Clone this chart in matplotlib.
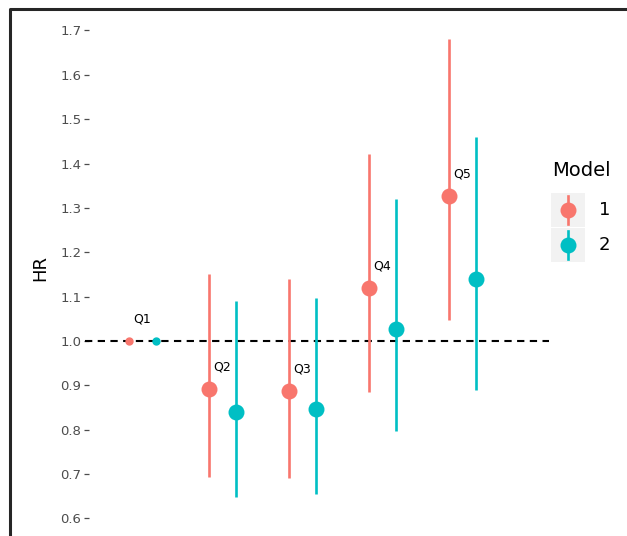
import matplotlib
matplotlib.use("Agg")
import matplotlib.pyplot as plt
from matplotlib.lines import Line2D
from matplotlib.patches import Rectangle
import numpy as np

# ── data ────────────────────────────────────────────────────────────────
quintiles = ["Q1", "Q2", "Q3", "Q4", "Q5"]
models = ["1", "2"]

hr_m1 = [1.000, 0.892, 0.887, 1.120, 1.327]
lo_m1 = [1.000, 0.693, 0.691, 0.885, 1.047]
hi_m1 = [1.000, 1.151, 1.140, 1.422, 1.681]

hr_m2 = [1.000, 0.840, 0.847, 1.027, 1.140]
lo_m2 = [1.000, 0.648, 0.655, 0.797, 0.890]
hi_m2 = [1.000, 1.090, 1.097, 1.320, 1.460]

yticks = [0.6, 0.7, 0.8, 0.9, 1.0, 1.1, 1.2, 1.3, 1.4, 1.5, 1.6, 1.7]

colors = ["#F8766D", "#00BFC4"]
W, H = 627, 536

fig = plt.figure(figsize=(W / 100, H / 100), dpi=100)


def fx(px):
    return px / W


def fy(py):
    return 1 - py / H


# panel: x 89..549 px, y 15..536 px
ax = fig.add_axes([fx(89), 0, fx(549) - fx(89), fy(15)])
for s in ax.spines.values():
    s.set_visible(False)

x = np.arange(1, len(quintiles) + 1)
dodge = 0.169

series = [(hr_m1, lo_m1, hi_m1), (hr_m2, lo_m2, hi_m2)]
for i, (hr, lo, hi) in enumerate(series):
    xs = x + (-dodge if i == 0 else dodge)
    c = colors[i]
    # reference category Q1 drawn small without interval
    ax.plot(xs[0], hr[0], "o", color=c, ms=5, zorder=4, clip_on=False)
    ax.vlines(xs[1:], lo[1:], hi[1:], color=c, lw=1.9, zorder=3)
    ax.plot(xs[1:], hr[1:], "o", color=c, ms=11.5, zorder=4, mew=0)

# reference line at HR = 1
ax.plot([0.281, 6.08], [1.0, 1.0], color="black", lw=1.5,
        dashes=(3.5, 2.6), zorder=2, clip_on=False)

# quintile labels above model-1 estimate
for xi, q, h in zip(x, quintiles, hr_m1):
    ax.text(xi, h + 0.05, q, ha="center", va="center", fontsize=9,
            color="black")

ax.set_xlim(0.331, 6.08)
ax.set_ylim(0.5604, 1.7349)
ax.set_xticks([])
ax.set_yticks(yticks)
ax.set_yticklabels([f"{v:.1f}" for v in yticks])
ax.tick_params(axis="y", length=3.5, width=0.9, color="#4d4d4d",
               labelcolor="#4d4d4d", labelsize=9.5, pad=2)
ax.set_ylabel("HR", fontsize=13)
ax.yaxis.set_label_coords(-0.087, fy(268) / fy(15))

# legend drawn by hand (ggplot style)
fig.text(fx(552), fy(171), "Model", fontsize=14, ha="left", va="center")
for i, m in enumerate(models):
    top = 193 + i * 35
    fig.add_artist(Rectangle((fx(551), fy(top + 34)), fx(34), 34 / H,
                             facecolor="#f2f2f2", edgecolor="none"))
    cx, cy = fx(568), fy(top + 17)
    fig.add_artist(Line2D([cx, cx], [fy(top + 3), fy(top + 31)],
                          color=colors[i], lw=1.9))
    fig.add_artist(Line2D([cx], [cy], marker="o", ms=11.5, mew=0,
                          color=colors[i]))
    fig.text(fx(599), cy, m, fontsize=13, ha="left", va="center")

# outer frame (cropped on right and bottom)
fig.add_artist(Line2D([fx(10), fx(10), fx(627)], [0, fy(9), fy(9)],
                      color="#262626", lw=2.2))

fig.savefig("out.png", dpi=100)
